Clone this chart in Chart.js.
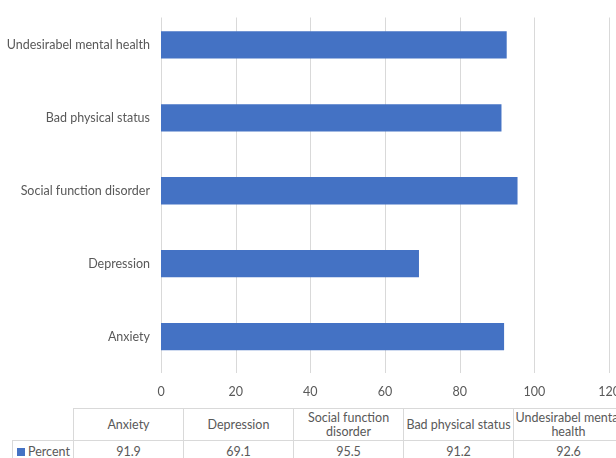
<!DOCTYPE html>
<html>
<head>
<meta charset="utf-8">
<script src="https://cdn.jsdelivr.net/npm/chart.js@4"></script>
<style>
  html, body { margin: 0; padding: 0; background: #fff; }
  #wrap { position: relative; width: 616px; height: 458px; overflow: hidden; }
  #chartBox { position: absolute; left: -40px; top: -10px; width: 700px; height: 414px; }
  #dataTable {
    position: absolute; left: 12px; top: 408px; width: 611px;
    border-collapse: collapse; table-layout: fixed;
    font-family: Lato, "Open Sans", sans-serif; font-size: 12.5px; color: #595959;
  }
  #dataTable td { border: 1px solid #d9d9d9; text-align: center; padding: 0; line-height: 14px; }
  #dataTable tr.head td { height: 31px; }
  #dataTable tr.vals td { height: 21px; }
  #dataTable td.blank { border-top: none; border-left: none; }
  #dataTable td.series { text-align: left; padding-left: 4px; white-space: nowrap; }
  #dataTable td.wide { white-space: nowrap; }
  .key { display: inline-block; width: 8px; height: 8px; background: #4472C4; margin-right: 3px; vertical-align: 0px; }
</style>
</head>
<body>
<div id="wrap">
  <div id="chartBox"><canvas id="barChart"></canvas></div>
  <table id="dataTable"></table>
</div>
<script>
// chart values, bottom to top as in the picture
const categories = ['Anxiety', 'Depression', 'Social function disorder', 'Bad physical status', 'Undesirabel mental health'];
const tableHeads = ['Anxiety', 'Depression', 'Social function<br>disorder', 'Bad physical status', 'Undesirabel mental<br>health'];
const seriesName = 'Percent';
const percentValues = [91.9, 69.1, 95.5, 91.2, 92.6];
const xTicks = [0, 20, 40, 60, 80, 100, 120];

const textColor = '#595959';
const gridColor = '#d9d9d9';
const barColor = '#4472C4';
const labelFont = { family: 'Lato, "Open Sans", sans-serif', size: 12.5 };

function buildTable() {
    const table = document.getElementById('dataTable');
    const colW = [61, 110, 110, 110, 110, 110];

    let html = '<colgroup>' + colW.map(w => `<col style="width:${w}px">`).join('') + '</colgroup>';
    html += '<tr class="head"><td class="blank"></td>';
    tableHeads.forEach((h, i) => {
        const cls = i === tableHeads.length - 1 ? ' class="wide"' : '';
        html += `<td${cls}>${h}</td>`;
    });
    html += '</tr><tr class="vals"><td class="series"><span class="key"></span>' + seriesName + '</td>';
    percentValues.forEach(v => { html += `<td>${v.toFixed(1)}</td>`; });
    html += '</tr>';
    table.innerHTML = html;
}

// vertical gridlines; in the picture they start a little below the top of the plot
const gridPlugin = {
    id: 'xGrid',
    beforeDatasetsDraw(chart) {
        const { ctx, chartArea, scales } = chart;
        ctx.save();
        ctx.strokeStyle = gridColor;
        ctx.lineWidth = 1;
        xTicks.forEach(v => {
            const x = Math.round(scales.x.getPixelForValue(v)) + 0.5;
            ctx.beginPath();
            ctx.moveTo(x, chartArea.top + 9);
            ctx.lineTo(x, chartArea.bottom);
            ctx.stroke();
        });
        ctx.restore();
    }
};

function renderChart() {
    const ctx = document.getElementById('barChart').getContext('2d');

    new Chart(ctx, {
        type: 'bar',
        data: {
            labels: categories,
            datasets: [{
                label: seriesName,
                data: percentValues,
                backgroundColor: barColor,
                borderWidth: 0,
                barPercentage: 0.75,
                categoryPercentage: 0.5
            }]
        },
        options: {
            indexAxis: 'y',
            responsive: false,
            animation: false,
            layout: { padding: { top: 2, right: 51, left: 0, bottom: 0 } },
            plugins: {
                legend: { display: false },
                tooltip: { enabled: false }
            },
            scales: {
                x: {
                    min: 0,
                    max: 120,
                    afterBuildTicks: scale => { scale.ticks = xTicks.map(v => ({ value: v })); },
                    afterFit: scale => { scale.height = 31; },
                    grid: { display: false, drawTicks: false },
                    border: { display: false },
                    ticks: { color: textColor, padding: 11, font: labelFont }
                },
                y: {
                    reverse: true,
                    afterFit: scale => { scale.width = 201; },
                    grid: { display: false, drawTicks: false },
                    border: { display: false },
                    ticks: { color: textColor, padding: 11, font: labelFont }
                }
            }
        },
        plugins: [gridPlugin]
    });
}

const canvas = document.getElementById('barChart');
canvas.width = 700;
canvas.height = 414;
buildTable();
renderChart();
</script>
</body>
</html>
